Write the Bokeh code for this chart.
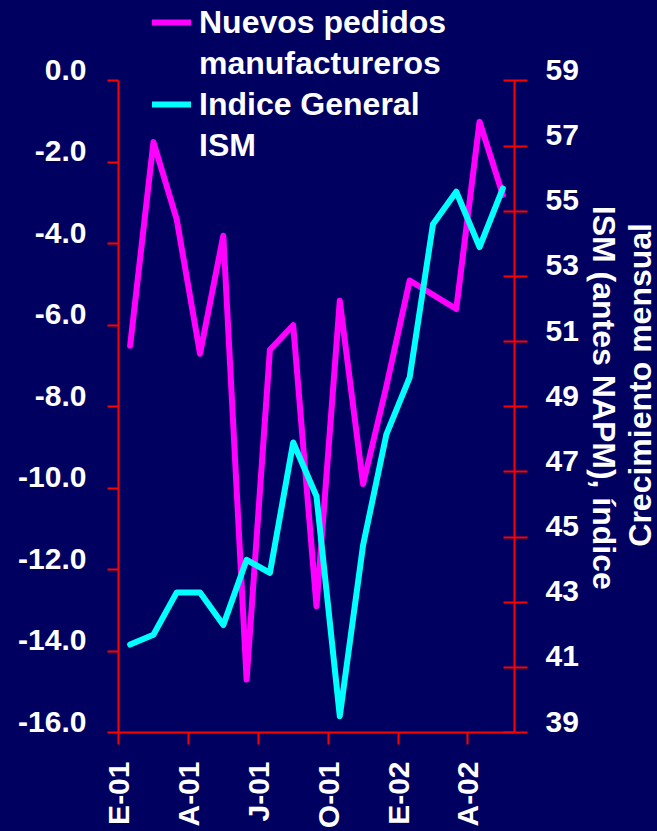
import math
from bokeh.plotting import figure
from bokeh.layouts import row
from bokeh.models import (Range1d, LinearAxis, FixedTicker, PrintfTickFormatter,
                          Legend, LegendItem, Label)
from bokeh.embed import file_html
from bokeh.resources import INLINE

# ---- data ----
meses = ["E-01", "F-01", "M-01", "A-01", "M-01", "J-01", "J-01", "A-01", "S-01",
         "O-01", "N-01", "D-01", "E-02", "F-02", "M-02", "A-02", "M-02"]
tick_pos = [0, 3, 6, 9, 12, 15]
tick_labels = ["E-01", "A-01", "J-01", "O-01", "E-02", "A-02"]
nuevos_pedidos = [-6.5, -1.5, -3.4, -6.7, -3.8, -14.7, -6.6, -6.0, -12.9,
                  -5.4, -9.9, -7.5, -4.9, -5.25, -5.6, -1.0, -2.8]
ism = [41.7, 42.0, 43.3, 43.3, 42.3, 44.3, 43.9, 47.9, 46.25,
       39.5, 44.75, 48.15, 49.9, 54.6, 55.6, 53.9, 55.7]
left_ticks = [-16, -14, -12, -10, -8, -6, -4, -2, 0]
right_ticks = [39, 41, 43, 45, 47, 49, 51, 53, 55, 57, 59]
titulo_der = "ISM (antes NAPM), índice"
titulo_izq = "Crecimiento mensual"

# ---- layout constants (pixels) ----
W, H = 657, 831
WP = 586                 # width of the main figure; the rest holds the axis titles
FRAME_L, FRAME_R, AXIS_TOP, FRAME_B = 118, 514, 81, 737
LABEL_LIFT = 11          # tick labels sit a little above their ticks
BG = "#000060"
RED = "#FF0000"
FONT = "Liberation Sans"

lo_l, hi_l = left_ticks[0], left_ticks[-1]
lo_r, hi_r = right_ticks[0], right_ticks[-1]
ppu_l = (FRAME_B - AXIS_TOP) / (hi_l - lo_l)
ppu_r = (FRAME_B - AXIS_TOP) / (hi_r - lo_r)
top_l = hi_l + AXIS_TOP / ppu_l
top_r = hi_r + AXIS_TOP / ppu_r
dl = LABEL_LIFT / ppu_l
dr = LABEL_LIFT / ppu_r

x = [i + 0.5 for i in range(len(meses))]

p = figure(width=WP, height=H, output_backend="svg", toolbar_location=None,
           x_range=Range1d(0, len(meses)), y_range=Range1d(lo_l, top_l),
           background_fill_color=None, border_fill_color=None, outline_line_color=None,
           min_border_left=FRAME_L, min_border_right=WP - FRAME_R, min_border_top=0,
           min_border_bottom=H - FRAME_B)
p.title.visible = False
p.extra_y_ranges = {"ism": Range1d(lo_r, top_r),
                    "lbl_l": Range1d(lo_l - dl, top_l - dl),
                    "lbl_r": Range1d(lo_r - dr, top_r - dr)}
p.grid.visible = False


def style(ax, size="30px"):
    ax.axis_line_color = RED
    ax.axis_line_width = 2
    ax.major_tick_line_color = RED
    ax.major_tick_line_width = 2
    ax.minor_tick_line_color = None
    ax.minor_tick_in = 0
    ax.minor_tick_out = 0
    ax.major_label_text_color = "white"
    ax.major_label_text_font = FONT
    ax.major_label_text_font_style = "bold"
    ax.major_label_text_font_size = size


def label_only(ax):
    ax.axis_line_color = None
    ax.major_tick_line_color = None
    ax.major_tick_in = 0
    ax.major_tick_out = 0


# left axis: line + ticks
ya = p.yaxis[0]
ya.ticker = FixedTicker(ticks=left_ticks)
ya.bounds = (lo_l, hi_l)
style(ya)
ya.major_tick_in = 0
ya.major_tick_out = 11
ya.major_label_standoff = 0
ya.major_label_overrides = {t: "" for t in left_ticks}

# left tick labels
yl = LinearAxis(y_range_name="lbl_l", ticker=FixedTicker(ticks=left_ticks),
                formatter=PrintfTickFormatter(format="%.1f"), bounds=(lo_l, hi_l))
style(yl)
label_only(yl)
yl.major_label_standoff = 21
p.add_layout(yl, "left")

# bottom axis
xa = p.xaxis[0]
xa.ticker = FixedTicker(ticks=tick_pos)
xa.major_label_overrides = {t: l for t, l in zip(tick_pos, tick_labels)}
style(xa, "30px")
xa.major_tick_in = 0
xa.major_tick_out = 12
xa.major_label_standoff = 17
xa.major_label_orientation = math.pi / 2

# right axis: line + ticks
ra = LinearAxis(y_range_name="ism", ticker=FixedTicker(ticks=right_ticks),
                bounds=(lo_r, hi_r))
style(ra)
ra.major_tick_in = 11
ra.major_tick_out = 13
ra.major_label_standoff = 0
ra.major_label_overrides = {t: "" for t in right_ticks}
p.add_layout(ra, "right")

# right tick labels
rl = LinearAxis(y_range_name="lbl_r", ticker=FixedTicker(ticks=right_ticks),
                bounds=(lo_r, hi_r))
style(rl)
label_only(rl)
rl.major_label_standoff = 18
p.add_layout(rl, "right")

# series
r1 = p.line(x, nuevos_pedidos, line_color="#FF00FF", line_width=6,
            line_join="round", line_cap="round")
r2 = p.line(x, ism, y_range_name="ism", line_color="#00FFFF", line_width=6,
            line_join="round", line_cap="round")
d1 = p.line([], [], line_color="#FF00FF", line_alpha=0)
d2 = p.line([], [], line_color="#00FFFF", line_alpha=0)

legend = Legend(items=[
    LegendItem(label="Nuevos pedidos", renderers=[r1]),
    LegendItem(label="manufactureros", renderers=[d1]),
    LegendItem(label="Indice General", renderers=[r2]),
    LegendItem(label="ISM", renderers=[d2]),
], location=(152 - FRAME_L, FRAME_B - 169))
legend.background_fill_alpha = 0
legend.border_line_color = None
legend.padding = 0
legend.margin = 0
legend.spacing = 3
legend.label_height = 38
legend.glyph_height = 38
legend.glyph_width = 39
legend.label_standoff = 8
legend.label_text_color = "white"
legend.label_text_font = FONT
legend.label_text_font_style = "bold"
legend.label_text_font_size = "32px"
p.add_layout(legend, "center")

# ---- strip on the right holding the two axis titles (page pixel coordinates) ----
t = figure(width=W - WP, height=H, output_backend="svg", toolbar_location=None,
           x_range=Range1d(WP, W), y_range=Range1d(FRAME_B, 0),
           x_axis_location=None, y_axis_location=None,
           min_border_left=0, min_border_right=0, min_border_top=0,
           min_border_bottom=H - FRAME_B,
           background_fill_color=None, border_fill_color=None, outline_line_color=None)
t.title.visible = False
t.grid.visible = False
common = dict(text_color="white", text_font=FONT, text_font_style="bold",
              text_font_size="32px", text_align="center", text_baseline="middle")
t.add_layout(Label(x=603, y=400, text=titulo_der, angle=-math.pi / 2, **common))
t.add_layout(Label(x=639, y=387, text=titulo_izq, angle=math.pi / 2, **common))

layout = row(p, t, styles={"background-color": BG})
open("out.html", "w").write(file_html(layout, INLINE))
